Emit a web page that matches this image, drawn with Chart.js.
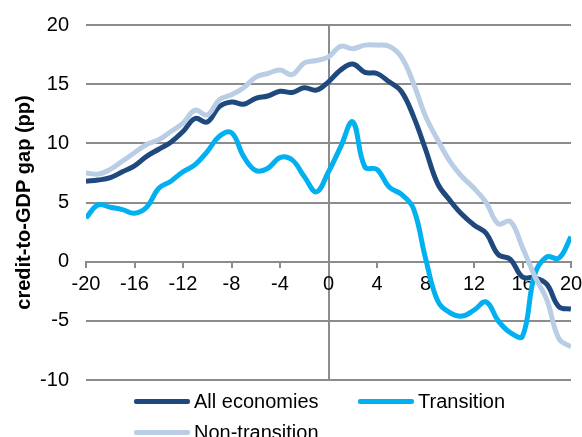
<!DOCTYPE html>
<html>
<head>
<meta charset="utf-8">
<script src="https://cdn.jsdelivr.net/npm/chart.js@4/dist/chart.umd.min.js"></script>
<style>
  body { margin: 0; background: #fff; font-family: "Liberation Sans", Arial, sans-serif; }
  #wrap { position: relative; width: 582px; height: 437px; overflow: hidden; }
  #box { position: absolute; left: 0; top: 0; width: 582px; height: 410px; }
  #legend { position: absolute; left: 134px; top: 386px; width: 450px; display: flex; flex-wrap: wrap; }
  .item { width: 224px; height: 31px; display: flex; align-items: center; font-size: 20px; color: #000; }
  .swatch { width: 56px; height: 5px; border-radius: 2px; margin-right: 4px; }
</style>
</head>
<body>
<div id="wrap">
  <div id="box"><canvas id="chart"></canvas></div>
  <div id="legend"></div>
</div>
<script>
const quarters = [-20, -19, -18, -17, -16, -15, -14, -13, -12, -11, -10, -9, -8, -7, -6, -5, -4, -3, -2, -1,
  0, 1, 2, 3, 4, 5, 6, 7, 8, 9, 10, 11, 12, 13, 14, 15, 16, 17, 18, 19, 20];

const allEconomies = [6.8, 6.9, 7.1, 7.6, 8.1, 8.9, 9.5, 10.1, 11.0, 12.1, 11.8, 13.1, 13.5, 13.3, 13.8, 14.0, 14.4, 14.3, 14.7, 14.5,
  15.2, 16.2, 16.7, 16.0, 15.9, 15.2, 14.4, 12.3, 9.5, 6.6, 5.2, 4.0, 3.1, 2.4, 0.6, 0.2, -1.3, -1.35, -1.9, -3.8, -4.0];

const transition = [3.7, 4.8, 4.6, 4.4, 4.1, 4.6, 6.2, 6.8, 7.6, 8.2, 9.3, 10.6, 10.9, 8.9, 7.7, 7.9, 8.8, 8.6, 7.2, 5.9,
  7.6, 9.7, 11.8, 8.0, 7.8, 6.3, 5.7, 4.5, 0.3, -3.3, -4.3, -4.6, -4.1, -3.4, -5.0, -6.0, -6.3, -1.1, 0.4, 0.3, 2.1];

const nonTransition = [7.5, 7.4, 7.8, 8.5, 9.2, 9.9, 10.3, 11.0, 11.7, 12.8, 12.4, 13.7, 14.1, 14.7, 15.6, 15.9, 16.2, 15.8, 16.8, 17.0,
  17.3, 18.2, 18.0, 18.3, 18.3, 18.2, 17.3, 15.1, 12.3, 10.3, 8.5, 7.2, 6.2, 5.0, 3.2, 3.4, 1.2, -1.2, -3.2, -6.5, -7.2];

const xTicks = [-20, -16, -12, -8, -4, 0, 4, 8, 12, 16, 20];
const yTicks = [-10, -5, 0, 5, 10, 15, 20];

const seriesNames = ["All economies", "Transition", "Non-transition"];
const seriesColors = ["#1f497d", "#00b0f0", "#b9cde5"];
const seriesValues = [allEconomies, transition, nonTransition];

Chart.defaults.font.family = '"Liberation Sans", Arial, sans-serif';
Chart.defaults.font.size = 20;
Chart.defaults.color = "#000";

const datasets = seriesValues.map((vals, i) => ({
  label: seriesNames[i],
  data: quarters.map((q, j) => ({ x: q, y: vals[j] })),
  borderColor: seriesColors[i],
  backgroundColor: seriesColors[i],
  borderWidth: 5,
  pointRadius: 0,
  tension: 0.4,
  fill: false
}));
// draw light line first so the darker ones sit on top, like the original
const ordered = [datasets[2], datasets[1], datasets[0]];

new Chart(document.getElementById("chart"), {
  type: "line",
  data: { datasets: ordered },
  options: {
    responsive: true,
    maintainAspectRatio: false,
    animation: false,
    layout: { padding: { top: 25, right: 11, bottom: 30, left: 0 } },
    plugins: { legend: { display: false }, tooltip: { enabled: false } },
    scales: {
      x: {
        type: "linear",
        position: { y: 0 },
        min: -20,
        max: 20,
        afterBuildTicks: (axis) => { axis.ticks = xTicks.map(v => ({ value: v })); },
        afterFit: (axis) => { axis.paddingRight = 11; axis.paddingLeft = 11; },
        ticks: { padding: 6, maxRotation: 0, autoSkip: false },
        grid: {
          color: (ctx) => (ctx.tick && ctx.tick.value === 0 ? "#8c8c8c" : "rgba(0,0,0,0)"),
          lineWidth: 2,
          tickColor: "#8c8c8c",
          tickLength: 5
        },
        border: { color: "#8c8c8c", width: 2 }
      },
      y: {
        min: -10,
        max: 20,
        afterBuildTicks: (axis) => { axis.ticks = yTicks.map(v => ({ value: v })); },
        afterFit: (axis) => { axis.width = 86; axis.paddingTop = 0; axis.paddingBottom = 0; },
        ticks: { padding: 17 },
        grid: { color: "#8c8c8c", lineWidth: 2, drawTicks: false },
        border: { display: false },
        title: {
          display: true,
          text: "credit-to-GDP gap (pp)",
          font: { size: 20, weight: "bold" },
          padding: { top: 12, bottom: 0 }
        }
      }
    }
  }
});

const legend = document.getElementById("legend");
seriesNames.forEach((name, i) => {
  const item = document.createElement("div");
  item.className = "item";
  const sw = document.createElement("span");
  sw.className = "swatch";
  sw.style.background = seriesColors[i];
  const txt = document.createElement("span");
  txt.textContent = name;
  item.appendChild(sw);
  item.appendChild(txt);
  legend.appendChild(item);
});
</script>
</body>
</html>
